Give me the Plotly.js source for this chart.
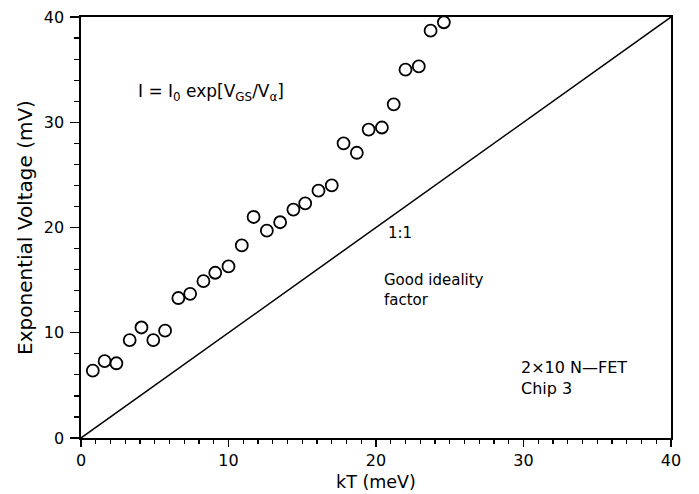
<!DOCTYPE html>
<html>
<head>
<meta charset="utf-8">
<script src="https://cdn.plot.ly/plotly-3.0.1.min.js"></script>
<style>
  html, body { margin: 0; padding: 0; background: #ffffff; }
  #chart { width: 699px; height: 494px; }
</style>
</head>
<body>
<div id="chart"></div>
<script>
// Measured exponential voltage versus thermal energy, 2x10 N-FET, chip 3
const kT_meV = [0.8, 1.6, 2.4, 3.3, 4.1, 4.9, 5.7, 6.6, 7.4, 8.3, 9.1, 10.0, 10.9,
                11.7, 12.6, 13.5, 14.4, 15.2, 16.1, 17.0, 17.8, 18.7, 19.5, 20.4,
                21.2, 22.0, 22.9, 23.7, 24.6];
const Valpha_mV = [6.4, 7.3, 7.1, 9.3, 10.5, 9.3, 10.2, 13.3, 13.7, 14.9, 15.7, 16.3, 18.3,
                   21.0, 19.7, 20.5, 21.7, 22.3, 23.5, 24.0, 28.0, 27.1, 29.3, 29.5,
                   31.7, 35.0, 35.3, 38.7, 39.5];

// Reference 1:1 line
const unityX = [0, 40];
const unityY = [0, 40];

const FONT = 'DejaVu Sans, Liberation Sans, sans-serif';
const INK = '#000000';

const traces = [
  {
    x: unityX, y: unityY,
    type: 'scatter', mode: 'lines',
    line: { color: INK, width: 1.5 },
    hoverinfo: 'skip'
  },
  {
    x: kT_meV, y: Valpha_mV,
    type: 'scatter', mode: 'markers',
    marker: { symbol: 'circle-open', size: 12, color: INK, line: { color: INK, width: 1.8 } },
    cliponaxis: false
  }
];

const axisCommon = {
  range: [0, 40],
  showgrid: false,
  zeroline: false,
  showline: true,
  linecolor: INK,
  linewidth: 1.6,
  mirror: true,
  ticks: 'outside',
  tickcolor: INK,
  tickwidth: 1.4,
  tick0: 0,
  dtick: 10,
  tickfont: { family: FONT, size: 16, color: INK }
};

const layout = {
  width: 699,
  height: 494,
  margin: { l: 81, r: 28, t: 17, b: 56 },
  paper_bgcolor: '#ffffff',
  plot_bgcolor: '#ffffff',
  showlegend: false,
  font: { family: FONT, color: INK },
  xaxis: Object.assign({}, axisCommon, {
    ticklen: 7,
    minor: { dtick: 1, ticks: 'outside', ticklen: 4, tickcolor: INK, tickwidth: 1.2 },
    title: { text: 'kT (meV)', font: { family: FONT, size: 17.5, color: INK }, standoff: 7 }
  }),
  yaxis: Object.assign({}, axisCommon, {
    ticklen: 9,
    ticklabelstandoff: 3,
    minor: { dtick: 2, ticks: 'outside', ticklen: 5, tickcolor: INK, tickwidth: 1.2 },
    title: { text: 'Exponential Voltage (mV)', font: { family: FONT, size: 20, color: INK }, standoff: 6 }
  }),
  annotations: [
    {
      x: 3.7, y: 32.8, xref: 'x', yref: 'y', xanchor: 'left', yanchor: 'middle',
      text: 'I = I<sub>0</sub> exp[V<sub>GS</sub>/V<sub>α</sub>]',
      showarrow: false, font: { family: FONT, size: 17, color: INK }
    },
    {
      x: 21.6, y: 19.5, xref: 'x', yref: 'y', xanchor: 'center', yanchor: 'middle',
      text: '1:1', showarrow: false, font: { family: FONT, size: 15, color: INK }
    },
    {
      x: 20.4, y: 14.1, xref: 'x', yref: 'y', xanchor: 'left', yanchor: 'middle', align: 'left',
      text: 'Good ideality<br>factor', showarrow: false,
      font: { family: FONT, size: 15, color: INK }
    },
    {
      x: 29.7, y: 5.7, xref: 'x', yref: 'y', xanchor: 'left', yanchor: 'middle', align: 'left',
      text: '2×10 N—FET<br>Chip 3', showarrow: false,
      font: { family: FONT, size: 16, color: INK }
    }
  ]
};

Plotly.newPlot('chart', traces, layout, { staticPlot: true, displayModeBar: false });
</script>
</body>
</html>
